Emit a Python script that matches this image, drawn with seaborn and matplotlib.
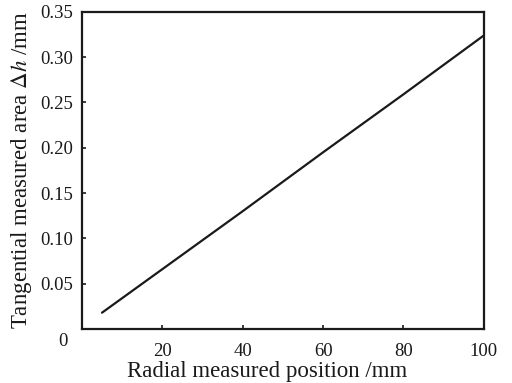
import seaborn as sns
import pandas as pd
import matplotlib.pyplot as plt

posicao = [5, 20, 40, 60, 80, 100]
delta_h = [0.018, 0.066, 0.130, 0.195, 0.259, 0.324]
xticks = [20, 40, 60, 80, 100]
yticks = [0.05, 0.10, 0.15, 0.20, 0.25, 0.30, 0.35]

sns.set_style('ticks')
plt.rcParams['font.family'] = ['Liberation Serif', 'DejaVu Serif']
plt.rcParams['mathtext.fontset'] = 'stix'

dados = pd.DataFrame({'x': posicao, 'y': delta_h})

fig = plt.figure(figsize=(5.12, 3.83), dpi=100)
ax = fig.add_axes([0.160, 0.141, 0.785, 0.828])
sns.lineplot(x='x', y='y', data=dados, color='#1a1a1a', linewidth=1.6, ax=ax)

ax.set_xlim(0, 100)
ax.set_ylim(0, 0.35)
ax.set_xticks(xticks)
ax.set_xticklabels([str(t) for t in xticks])
ax.set_yticks(yticks)
ax.set_yticklabels([f'{t:.2f}' for t in yticks])
ax.tick_params(direction='in', length=3, width=1.2, labelsize=13.5, colors='#1a1a1a')
ax.tick_params(axis='x', pad=10)
ax.tick_params(axis='y', pad=6)
for s in ax.spines.values():
    s.set_linewidth(1.6)
    s.set_color('#1a1a1a')
ax.text(-0.035, -0.012, '0', transform=ax.transAxes, ha='right', va='top', fontsize=13.5, color='#1a1a1a')

ax.set_xlabel('Radial measured position /mm', fontsize=16.5, color='#1a1a1a')
ax.xaxis.set_label_coords(0.46, -0.10)
ax.set_ylabel(r'Tangential measured area $\Delta h$ /mm', fontsize=16.5, color='#1a1a1a', labelpad=5)

plt.savefig('out.png', dpi=100)
